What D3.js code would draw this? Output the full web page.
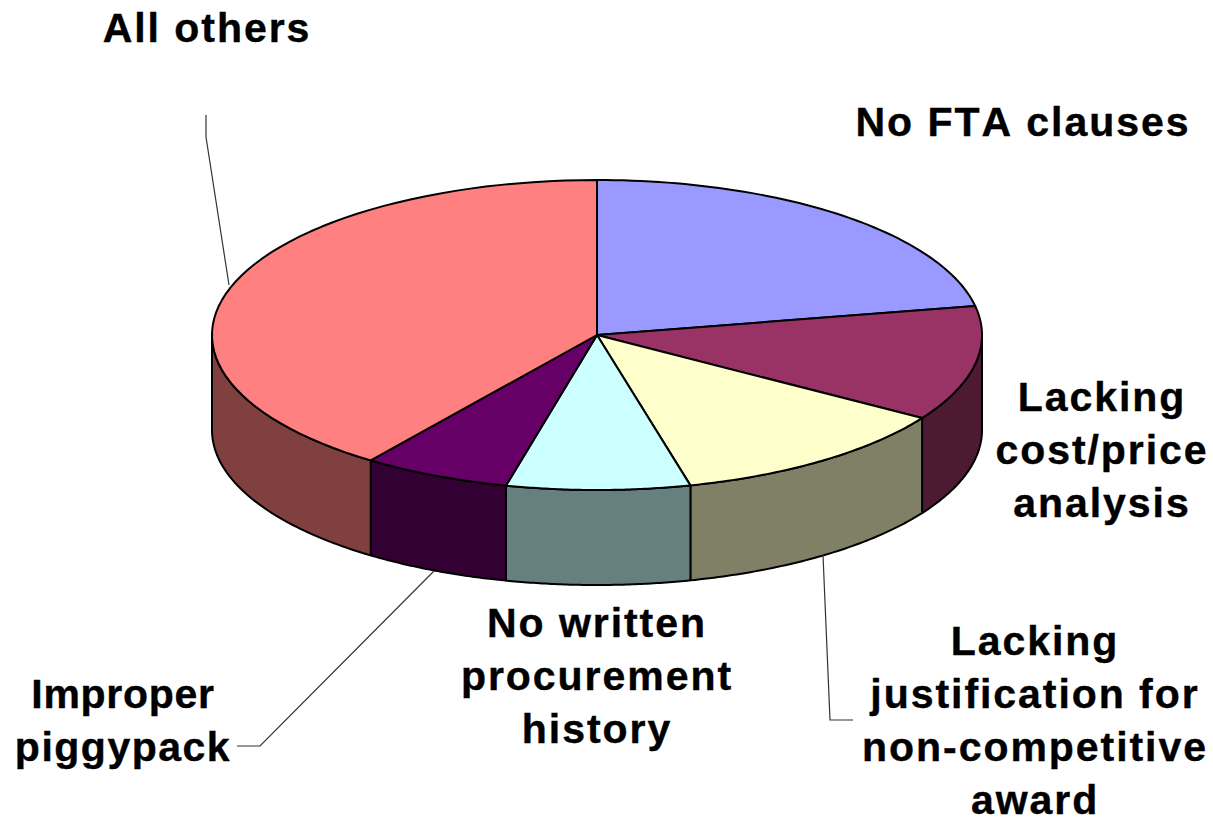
<!DOCTYPE html>
<html><head><meta charset="utf-8">
<script src="https://cdn.jsdelivr.net/npm/d3@7"></script>
<style>html,body{margin:0;padding:0;background:#fff}svg{display:block}text{font-family:"Liberation Sans",Arial,sans-serif;font-weight:bold;fill:#000;stroke:#000;stroke-width:.4px;letter-spacing:1.95px;font-kerning:none}</style>
</head><body><svg id="c" width="1213" height="817"></svg>
<script>
const categories=["No FTA clauses","Lacking cost/price analysis","Lacking justification for non-competitive award","No written procurement history","Improper piggypack","All others"];
const values=[22,12,12.1,7.7,6.2,40];
const topColors=["#9999FF","#993366","#FFFFCC","#CCFFFF","#660066","#FF8080"];
const sideColors=["#4D4D80","#4D1A33","#808066","#668080","#330033","#804040"];
const labelLines=[["No FTA clauses"],["Lacking","cost/price","analysis"],["Lacking","justification for","non-competitive","award"],["No written","procurement","history"],["Improper","piggypack"],["All others"]];
const labelAnchors=[[1023,136],[1102,411],[1035,655],[597,637],[123,708],[207,42]];
const spacingOverride={"Improper":0.7,"piggypack":1.5};
const leaders=[null,null,[[823,555],[830,720],[853,720]],null,[[434,571],[260,746],[237,746]],[[206,115],[206,137],[229,285]]];

const cx=597,cy=335,rx=385,ry=155,depth=95;
const svg=d3.select("#c");
const arcs=d3.pie().sort(null).value(d=>d)(values);
const px=a=>cx+rx*Math.sin(a), py=a=>cy-ry*Math.cos(a);
const line=d3.line();
const sample=(a0,a1)=>d3.range(0,61).map(i=>a0+(a1-a0)*i/60);

// side walls: only the front half (PI/2 .. 3PI/2) is visible
const sides=svg.append("g");
arcs.forEach((d,i)=>{
  const a0=Math.max(d.startAngle,Math.PI/2), a1=Math.min(d.endAngle,3*Math.PI/2);
  if(a1<=a0) return;
  const s=sample(a0,a1);
  const pts=s.map(a=>[px(a),py(a)]).concat(s.slice().reverse().map(a=>[px(a),py(a)+depth]));
  sides.append("path").attr("d",line(pts)+"Z").attr("fill",sideColors[i]).attr("stroke","#000").attr("stroke-width",2).attr("stroke-linejoin","round");
});
// top face
const tops=svg.append("g");
arcs.forEach((d,i)=>{
  const pts=[[cx,cy]].concat(sample(d.startAngle,d.endAngle).map(a=>[px(a),py(a)]));
  tops.append("path").attr("d",line(pts)+"Z").attr("fill",topColors[i]).attr("stroke","#000").attr("stroke-width",2).attr("stroke-linejoin","round");
});
// leader lines
leaders.forEach(l=>{ if(l) svg.append("path").attr("d",line(l)).attr("fill","none").attr("stroke","#333").attr("stroke-width",1.2); });
// labels
labelLines.forEach((ls,i)=>{
  const t=svg.append("text").attr("text-anchor","middle").attr("font-size",41);
  ls.forEach((s,j)=>{
    const ts=t.append("tspan").attr("x",labelAnchors[i][0]).attr("y",labelAnchors[i][1]+j*53).text(s);
    if(spacingOverride[s]!==undefined) ts.style("letter-spacing",spacingOverride[s]+"px");
  });
});
</script></body></html>
